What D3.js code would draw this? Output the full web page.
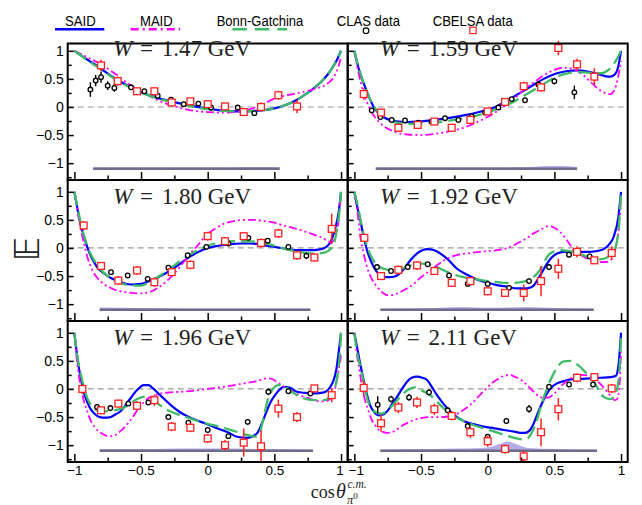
<!DOCTYPE html>
<html><head><meta charset="utf-8">
<script src="https://cdn.jsdelivr.net/npm/d3@7"></script>
<style>body{margin:0;background:#fff} svg{display:block}</style>
</head><body>
<svg id="c" width="642" height="505"></svg>
<script>
// ---------------- DATA ----------------
const energies = ["1.47","1.59","1.80","1.92","1.96","2.11"];
const legendLabels = ["SAID","MAID","Bonn-Gatchina","CLAS data","CBELSA data"];
const xTicks = [-1,-0.5,0,0.5,1];
const xMinor = [-0.75,-0.25,0.25,0.75];
const yTicks = [-1,-0.5,0,0.5,1];
const yMinor = [-1.25,-0.75,-0.25,0.25,0.75];

// W = 1.47
const said1 = [[-1,1],[-0.9,0.84],[-0.8,0.68],[-0.71,0.53],[-0.6,0.38],[-0.51,0.27],[-0.4,0.18],[-0.26,0.09],[-0.1,0.01],[0,-0.03],[0.1,-0.06],[0.24,-0.08],[0.35,-0.07],[0.49,-0.03],[0.6,0.05],[0.67,0.13],[0.75,0.25],[0.82,0.38],[0.88,0.52],[0.93,0.68],[0.97,0.84],[1,1]];
const maid1 = [[-1,1],[-0.9,0.88],[-0.8,0.76],[-0.7,0.6],[-0.6,0.42],[-0.5,0.28],[-0.4,0.15],[-0.3,0.05],[-0.2,-0.02],[-0.1,-0.07],[0,-0.09],[0.1,-0.1],[0.2,-0.09],[0.3,-0.05],[0.4,0.03],[0.5,0.15],[0.6,0.21],[0.7,0.26],[0.8,0.32],[0.9,0.42],[0.95,0.55],[0.98,0.72],[1,0.88]];
const bonn1 = [[-1,1],[-0.9,0.83],[-0.8,0.67],[-0.71,0.52],[-0.6,0.37],[-0.51,0.27],[-0.4,0.17],[-0.26,0.08],[-0.1,0.0],[0,-0.04],[0.1,-0.07],[0.24,-0.08],[0.35,-0.07],[0.49,-0.03],[0.6,0.05],[0.67,0.13],[0.75,0.25],[0.82,0.38],[0.88,0.52],[0.93,0.68],[0.97,0.84],[1,1]];
const clas1 = [[-0.88,0.31,0.13],[-0.84,0.47,0.1],[-0.8,0.53,0.1],[-0.75,0.38,0.08],[-0.7,0.34,0.07],[-0.575,0.35,0.04],[-0.475,0.28,0.04],[-0.375,0.2,0.04],[-0.275,0.13,0.04],[-0.18,0.05,0.04],[-0.07,0.06,0.04],[0.025,-0.01,0.04],[0.125,0.01,0.04],[0.225,-0.01,0.04],[0.35,-0.11,0.05]];
const cbelsa1 = [[-0.8,0.74,0.1],[-0.675,0.46,0.08],[-0.53,0.28,0.06],[-0.4,0.28,0.07],[-0.27,0.08,0.06],[-0.13,0.1,0.05],[0,0.05,0.06],[0.13,0.01,0.05],[0.27,-0.09,0.07],[0.4,0.0,0.08],[0.53,0.21,0.08],[0.67,0.01,0.12]];
const band1 = [[-0.86,-1.075],[-0.5,-1.075],[0,-1.075],[0.3,-1.07],[0.54,-1.075]];

// W = 1.59
const said2 = [[-1,1],[-0.97,0.7],[-0.93,0.42],[-0.89,0.18],[-0.855,0],[-0.8,-0.15],[-0.7,-0.25],[-0.6,-0.27],[-0.43,-0.24],[-0.3,-0.2],[-0.18,-0.15],[-0.05,-0.08],[0.05,-0.01],[0.15,0.12],[0.25,0.26],[0.32,0.36],[0.42,0.5],[0.52,0.6],[0.6,0.64],[0.67,0.65],[0.75,0.63],[0.82,0.59],[0.88,0.55],[0.92,0.54],[0.95,0.57],[0.975,0.68],[1,1]];
const maid2 = [[-1,1],[-0.97,0.62],[-0.93,0.25],[-0.88,-0.05],[-0.8,-0.3],[-0.7,-0.44],[-0.6,-0.49],[-0.5,-0.5],[-0.4,-0.48],[-0.3,-0.44],[-0.18,-0.37],[-0.08,-0.27],[0.02,-0.15],[0.1,-0.03],[0.17,0.09],[0.27,0.3],[0.37,0.48],[0.47,0.63],[0.57,0.7],[0.65,0.67],[0.72,0.56],[0.77,0.45],[0.83,0.32],[0.88,0.25],[0.92,0.23],[0.95,0.3],[0.975,0.5],[1,0.82]];
const bonn2 = [[-1,1],[-0.97,0.72],[-0.93,0.42],[-0.89,0.18],[-0.85,0],[-0.8,-0.15],[-0.7,-0.27],[-0.6,-0.3],[-0.45,-0.29],[-0.3,-0.25],[-0.15,-0.19],[0,-0.1],[0.1,0],[0.2,0.1],[0.3,0.24],[0.4,0.38],[0.5,0.52],[0.6,0.6],[0.7,0.62],[0.8,0.6],[0.85,0.6],[0.9,0.65],[0.95,0.78],[1,1]];
const clas2 = [[-0.87,-0.06,0.04],[-0.805,-0.18,0.04],[-0.72,-0.23,0.03],[-0.62,-0.24,0.03],[-0.52,-0.28,0.03],[-0.42,-0.26,0.03],[-0.32,-0.2,0.03],[-0.22,-0.23,0.03],[-0.12,-0.17,0.03],[-0.02,-0.1,0.03],[0.08,-0.01,0.03],[0.18,0.14,0.03],[0.28,0.12,0.04],[0.38,0.4,0.05],[0.5,0.46,0.06],[0.65,0.26,0.12]];
const cbelsa2 = [[-0.93,0.23,0.1],[-0.8,-0.1,0.07],[-0.67,-0.37,0.07],[-0.525,-0.32,0.06],[-0.4,-0.26,0.06],[-0.27,-0.37,0.06],[-0.13,-0.23,0.06],[0,-0.08,0.06],[0.13,0.09,0.07],[0.27,0.37,0.08],[0.4,0.35,0.08],[0.53,1.05,0.13],[0.67,0.76,0.1],[0.8,0.54,0.15]];
const band2 = [[-0.84,-1.075],[-0.3,-1.075],[0.3,-1.07],[0.45,-1.05],[0.55,-1.05],[0.67,-1.07]];

// W = 1.80
const said3 = [[-1,1],[-0.98,0.74],[-0.96,0.49],[-0.93,0.22],[-0.895,-0.04],[-0.86,-0.22],[-0.83,-0.34],[-0.78,-0.45],[-0.73,-0.53],[-0.65,-0.61],[-0.58,-0.65],[-0.5,-0.64],[-0.46,-0.61],[-0.38,-0.53],[-0.28,-0.4],[-0.2,-0.27],[-0.13,-0.15],[-0.06,-0.06],[0,0],[0.08,0.04],[0.17,0.07],[0.25,0.08],[0.32,0.08],[0.4,0.06],[0.47,0.03],[0.55,0],[0.62,-0.03],[0.7,-0.04],[0.77,-0.04],[0.83,-0.03],[0.89,0.02],[0.92,0.1],[0.955,0.34],[0.98,0.6],[1,1]];
const maid3 = [[-1,1],[-0.98,0.7],[-0.95,0.32],[-0.9,-0.18],[-0.86,-0.42],[-0.8,-0.6],[-0.71,-0.73],[-0.6,-0.79],[-0.51,-0.81],[-0.43,-0.78],[-0.36,-0.69],[-0.29,-0.55],[-0.23,-0.4],[-0.18,-0.25],[-0.13,-0.1],[-0.07,0.06],[-0.01,0.23],[0.06,0.35],[0.12,0.43],[0.2,0.48],[0.27,0.5],[0.35,0.5],[0.42,0.48],[0.5,0.45],[0.57,0.4],[0.65,0.35],[0.72,0.3],[0.78,0.25],[0.84,0.2],[0.89,0.14],[0.93,0.1],[0.96,0.2],[0.98,0.45],[1,1]];
const bonn3 = [[-1,1],[-0.97,0.65],[-0.95,0.42],[-0.9,0.02],[-0.82,-0.33],[-0.72,-0.55],[-0.6,-0.66],[-0.5,-0.67],[-0.42,-0.58],[-0.3,-0.4],[-0.2,-0.22],[-0.1,-0.07],[0,0.04],[0.1,0.1],[0.2,0.12],[0.3,0.12],[0.4,0.1],[0.5,0.04],[0.6,-0.03],[0.7,-0.08],[0.8,-0.1],[0.88,-0.08],[0.92,-0.02],[0.95,0.1],[0.97,0.35],[0.99,0.7],[1,1]];
const clas3 = [[-0.725,-0.43,0.03],[-0.6,-0.49,0.03],[-0.45,-0.55,0.03],[-0.295,-0.35,0.03],[-0.15,-0.13,0.03],[-0.01,0.02,0.03],[0.155,0.08,0.03],[0.305,0.18,0.03],[0.45,0.13,0.03],[0.605,0.02,0.03],[0.74,-0.14,0.06]];
const cbelsa3 = [[-0.93,0.4,0.08],[-0.8,-0.32,0.07],[-0.67,-0.58,0.08],[-0.53,-0.4,0.08],[-0.4,-0.61,0.08],[-0.27,-0.43,0.07],[-0.13,-0.3,0.08],[0,0.21,0.08],[0.13,0.12,0.07],[0.27,0.21,0.07],[0.4,0.09,0.08],[0.53,0.26,0.08],[0.67,-0.13,0.08],[0.8,-0.17,0.07],[0.93,0.34,0.27]];
const band3 = [[-0.81,-1.06],[-0.5,-1.07],[-0.2,-1.08],[0.77,-1.08]];

// W = 1.92
const said4 = [[-1,1],[-0.98,0.75],[-0.955,0.49],[-0.93,0.2],[-0.905,-0.04],[-0.855,-0.34],[-0.82,-0.46],[-0.78,-0.52],[-0.73,-0.52],[-0.68,-0.49],[-0.63,-0.38],[-0.58,-0.22],[-0.52,-0.08],[-0.455,-0.02],[-0.4,-0.04],[-0.355,-0.1],[-0.3,-0.2],[-0.23,-0.37],[-0.15,-0.48],[-0.08,-0.56],[0,-0.62],[0.07,-0.66],[0.15,-0.69],[0.22,-0.72],[0.295,-0.72],[0.34,-0.68],[0.37,-0.58],[0.41,-0.42],[0.445,-0.28],[0.48,-0.17],[0.52,-0.1],[0.57,-0.07],[0.62,-0.07],[0.7,-0.07],[0.77,-0.07],[0.83,-0.05],[0.87,-0.02],[0.91,0.06],[0.945,0.2],[0.98,0.55],[1,1]];
const maid4 = [[-1,1],[-0.975,0.6],[-0.955,0.2],[-0.93,-0.1],[-0.905,-0.34],[-0.87,-0.55],[-0.83,-0.69],[-0.79,-0.79],[-0.755,-0.84],[-0.72,-0.84],[-0.68,-0.81],[-0.62,-0.74],[-0.555,-0.64],[-0.5,-0.52],[-0.43,-0.4],[-0.37,-0.29],[-0.305,-0.19],[-0.22,-0.12],[-0.13,-0.09],[-0.03,-0.06],[0.07,-0.04],[0.15,0],[0.22,0.08],[0.29,0.17],[0.345,0.26],[0.4,0.33],[0.4575,0.39],[0.5,0.36],[0.545,0.28],[0.6,0.12],[0.645,-0.04],[0.7,-0.13],[0.745,-0.19],[0.8,-0.23],[0.845,-0.25],[0.89,-0.25],[0.92,-0.22],[0.95,-0.1],[0.97,0.14],[0.99,0.5],[1,0.9]];
const bonn4 = [[-1,1],[-0.97,0.7],[-0.95,0.45],[-0.9,0],[-0.85,-0.25],[-0.78,-0.37],[-0.7,-0.4],[-0.6,-0.33],[-0.55,-0.29],[-0.48,-0.28],[-0.4,-0.32],[-0.355,-0.37],[-0.28,-0.45],[-0.18,-0.52],[-0.1,-0.55],[-0.03,-0.58],[0.05,-0.6],[0.12,-0.62],[0.2,-0.62],[0.27,-0.6],[0.32,-0.55],[0.37,-0.46],[0.41,-0.32],[0.445,-0.16],[0.49,-0.07],[0.545,-0.04],[0.6,-0.05],[0.67,-0.09],[0.73,-0.14],[0.795,-0.19],[0.85,-0.2],[0.895,-0.17],[0.93,-0.1],[0.96,0.02],[0.98,0.3],[1,1]];
const clas4 = [[-0.83,-0.34,0.03],[-0.725,-0.41,0.03],[-0.6,-0.34,0.03],[-0.45,-0.29,0.03],[-0.29,-0.49,0.03],[-0.15,-0.64,0.03],[0,-0.64,0.03],[0.16,-0.71,0.03],[0.31,-0.59,0.05],[0.46,-0.34,0.05],[0.61,-0.12,0.04],[0.765,-0.15,0.03]];
const cbelsa4 = [[-0.925,0.18,0.07],[-0.8,-0.5,0.07],[-0.67,-0.39,0.08],[-0.53,-0.31,0.08],[-0.4,-0.41,0.07],[-0.27,-0.62,0.07],[-0.13,-0.59,0.07],[0,-0.77,0.07],[0.13,-0.8,0.07],[0.27,-0.8,0.15],[0.4,-0.59,0.27],[0.53,-0.37,0.18],[0.67,-0.07,0.1],[0.8,-0.22,0.06],[0.93,-0.09,0.12]];
const band4 = [[-0.805,-1.08],[-0.4,-1.07],[-0.2,-1.05],[0,-1.065],[0.15,-1.06],[0.3,-1.05],[0.5,-1.07],[0.795,-1.08]];

// W = 1.96
const said5 = [[-1,1],[-0.985,0.7],[-0.97,0.43],[-0.95,0.17],[-0.93,-0.05],[-0.9,-0.25],[-0.88,-0.35],[-0.845,-0.45],[-0.81,-0.5],[-0.77,-0.51],[-0.73,-0.5],[-0.69,-0.45],[-0.66,-0.41],[-0.62,-0.3],[-0.58,-0.17],[-0.53,-0.02],[-0.48,0.07],[-0.445,0.07],[-0.41,0.01],[-0.37,-0.08],[-0.33,-0.17],[-0.27,-0.3],[-0.21,-0.41],[-0.15,-0.49],[-0.08,-0.56],[0,-0.63],[0.07,-0.7],[0.15,-0.77],[0.22,-0.85],[0.29,-0.87],[0.33,-0.85],[0.37,-0.79],[0.405,-0.62],[0.44,-0.41],[0.475,-0.22],[0.505,-0.11],[0.54,-0.01],[0.57,0.04],[0.62,0.02],[0.67,-0.05],[0.73,-0.07],[0.79,-0.08],[0.85,-0.07],[0.89,-0.04],[0.92,0.04],[0.94,0.13],[0.965,0.35],[0.98,0.61],[1,1]];
const maid5 = [[-1,1],[-0.985,0.6],[-0.97,0.3],[-0.95,0],[-0.93,-0.2],[-0.9,-0.42],[-0.88,-0.55],[-0.85,-0.67],[-0.82,-0.75],[-0.78,-0.81],[-0.75,-0.84],[-0.71,-0.84],[-0.68,-0.8],[-0.64,-0.72],[-0.6,-0.62],[-0.56,-0.49],[-0.52,-0.35],[-0.48,-0.24],[-0.45,-0.17],[-0.4,-0.12],[-0.35,-0.08],[-0.28,-0.06],[-0.2,-0.05],[-0.1,-0.03],[0,0],[0.1,0.03],[0.2,0.07],[0.3,0.11],[0.35,0.13],[0.4,0.16],[0.45,0.19],[0.49,0.17],[0.52,0.12],[0.56,0.06],[0.6,0],[0.65,-0.06],[0.7,-0.12],[0.75,-0.16],[0.8,-0.2],[0.84,-0.22],[0.88,-0.22],[0.91,-0.19],[0.94,-0.1],[0.96,0.05],[0.98,0.3],[1,0.6]];
const bonn5 = [[-1,1],[-0.98,0.62],[-0.96,0.35],[-0.94,0.14],[-0.92,-0.05],[-0.87,-0.3],[-0.8,-0.4],[-0.7,-0.38],[-0.6,-0.3],[-0.53,-0.18],[-0.48,-0.14],[-0.43,-0.16],[-0.38,-0.25],[-0.3,-0.38],[-0.2,-0.47],[-0.1,-0.55],[0,-0.62],[0.1,-0.68],[0.2,-0.75],[0.3,-0.82],[0.36,-0.85],[0.39,-0.78],[0.42,-0.5],[0.45,-0.2],[0.48,-0.03],[0.53,0.07],[0.57,0.05],[0.63,-0.05],[0.7,-0.15],[0.8,-0.2],[0.87,-0.2],[0.93,-0.1],[0.97,0.2],[0.99,0.6],[1,1]];
const clas5 = [[-0.83,-0.32,0.04],[-0.73,-0.34,0.03],[-0.595,-0.26,0.03],[-0.445,-0.24,0.03],[-0.295,-0.5,0.03],[-0.145,-0.6,0.03],[0,-0.73,0.03],[0.155,-0.84,0.04],[0.3,-0.585,0.05],[0.455,-0.05,0.06],[0.605,-0.04,0.04],[0.77,-0.08,0.04]];
const cbelsa5 = [[-0.94,0,0.09],[-0.8,-0.38,0.07],[-0.67,-0.26,0.07],[-0.53,-0.3,0.08],[-0.4,-0.2,0.1],[-0.27,-0.67,0.08],[-0.13,-0.69,0.08],[0,-0.88,0.08],[0.13,-1.0,0.09],[0.27,-0.955,0.25],[0.4,-1.02,0.28],[0.53,-0.35,0.16],[0.67,-0.5,0.09],[0.8,0.01,0.06],[0.93,-0.11,0.13]];
const band5 = [[-0.81,-1.07],[-0.4,-1.07],[-0.2,-1.06],[0,-1.06],[0.2,-1.06],[0.4,-1.07],[0.79,-1.08]];

// W = 2.11
const said6 = [[-1,1],[-0.98,0.75],[-0.955,0.43],[-0.93,0.15],[-0.905,-0.11],[-0.88,-0.3],[-0.855,-0.4],[-0.82,-0.47],[-0.79,-0.46],[-0.755,-0.4],[-0.72,-0.28],[-0.68,-0.14],[-0.64,0.01],[-0.605,0.13],[-0.57,0.2],[-0.53,0.22],[-0.49,0.2],[-0.455,0.16],[-0.42,0.04],[-0.38,-0.11],[-0.33,-0.27],[-0.28,-0.4],[-0.23,-0.5],[-0.18,-0.57],[-0.1,-0.63],[-0.03,-0.67],[0.05,-0.7],[0.12,-0.73],[0.2,-0.76],[0.245,-0.78],[0.28,-0.78],[0.31,-0.75],[0.34,-0.64],[0.37,-0.46],[0.41,-0.24],[0.445,-0.08],[0.48,0.03],[0.52,0.1],[0.57,0.14],[0.62,0.17],[0.7,0.18],[0.77,0.19],[0.85,0.2],[0.92,0.21],[0.96,0.23],[0.98,0.4],[1,1]];
const maid6 = [[-1,1],[-0.98,0.6],[-0.96,0.3],[-0.94,0],[-0.92,-0.2],[-0.89,-0.42],[-0.87,-0.55],[-0.84,-0.66],[-0.82,-0.72],[-0.79,-0.76],[-0.76,-0.78],[-0.72,-0.77],[-0.68,-0.72],[-0.64,-0.65],[-0.6,-0.6],[-0.55,-0.55],[-0.5,-0.52],[-0.45,-0.5],[-0.4,-0.5],[-0.35,-0.5],[-0.3,-0.49],[-0.26,-0.47],[-0.22,-0.43],[-0.18,-0.37],[-0.13,-0.28],[-0.08,-0.16],[-0.03,-0.04],[0.02,0.08],[0.07,0.17],[0.12,0.23],[0.16,0.25],[0.2,0.22],[0.25,0.16],[0.3,0.06],[0.34,-0.04],[0.38,-0.12],[0.42,-0.16],[0.46,-0.15],[0.5,-0.08],[0.55,0.05],[0.6,0.15],[0.65,0.22],[0.7,0.25],[0.75,0.24],[0.8,0.19],[0.84,0.1],[0.88,0],[0.92,-0.12],[0.95,-0.2],[0.97,-0.18],[0.99,0.1],[1,0.7]];
const bonn6 = [[-1,1],[-0.98,0.65],[-0.95,0.35],[-0.92,0],[-0.9,-0.2],[-0.87,-0.35],[-0.85,-0.4],[-0.8,-0.44],[-0.75,-0.38],[-0.68,-0.2],[-0.6,-0.02],[-0.55,0.03],[-0.5,-0.02],[-0.42,-0.13],[-0.35,-0.3],[-0.28,-0.45],[-0.2,-0.55],[-0.1,-0.65],[0,-0.72],[0.1,-0.8],[0.2,-0.87],[0.27,-0.9],[0.3,-0.88],[0.33,-0.78],[0.37,-0.55],[0.4,-0.3],[0.445,0.01],[0.5,0.3],[0.57,0.49],[0.62,0.5],[0.68,0.42],[0.74,0.28],[0.795,0.13],[0.87,-0.14],[0.92,-0.18],[0.95,-0.12],[0.97,0],[0.99,0.4],[1,1]];
const clas6 = [[-0.825,-0.28,0.15],[-0.725,-0.18,0.06],[-0.59,-0.15,0.06],[-0.44,-0.06,0.05],[-0.3,-0.38,0.05],[-0.15,-0.66,0.04],[0,-0.85,0.04],[0.14,-0.57,0.04],[0.31,-0.355,0.07],[0.46,0.04,0.05],[0.61,0.08,0.04],[0.79,0.08,0.04]];
const cbelsa6 = [[-0.93,0.02,0.13],[-0.8,-0.61,0.15],[-0.67,-0.33,0.1],[-0.53,-0.24,0.1],[-0.4,-0.36,0.1],[-0.27,-0.48,0.08],[-0.13,-0.77,0.1],[0,-0.93,0.1],[0.13,-1.07,0.08],[0.27,-1.2,0.1],[0.4,-0.77,0.25],[0.53,-0.36,0.2],[0.67,0.2,0.08],[0.8,0.21,0.06],[0.93,0.01,0.08]];
const band6 = [[-0.805,-1.08],[-0.4,-1.07],[-0.2,-1.06],[0,-1.04],[0.1,-0.97],[0.15,-0.935],[0.2,-0.97],[0.3,-1.05],[0.5,-1.07],[0.82,-1.08]];

// ---------------- LAYOUT ----------------
const panels = [
  {w:energies[0], said:said1, maid:maid1, bonn:bonn1, clas:clas1, cbelsa:cbelsa1, band:band1},
  {w:energies[1], said:said2, maid:maid2, bonn:bonn2, clas:clas2, cbelsa:cbelsa2, band:band2},
  {w:energies[2], said:said3, maid:maid3, bonn:bonn3, clas:clas3, cbelsa:cbelsa3, band:band3},
  {w:energies[3], said:said4, maid:maid4, bonn:bonn4, clas:clas4, cbelsa:cbelsa4, band:band4},
  {w:energies[4], said:said5, maid:maid5, bonn:bonn5, clas:clas5, cbelsa:cbelsa5, band:band5},
  {w:energies[5], said:said6, maid:maid6, bonn:bonn6, clas:clas6, cbelsa:cbelsa6, band:band6}
];
const cols = [{x0:67.7, x1:347.7, tx:113.3}, {x0:347.7, x1:627.7, tx:380}];
const rows = [{y0:43.5, y1:180, ymax:1.13, tb:56}, {y0:180, y1:321, ymax:1.21, tb:203.5}, {y0:321, y1:462, ymax:1.21, tb:345}];
const XMIN=-1.05, XMAX=1.05, YMIN=-1.30;
const BLUE="#0000ff", MAG="#ff00ff", GREEN="#3dbb66", RED="#ff2020";
const SANS="'Liberation Sans', Arial, sans-serif", SERIF="'Liberation Serif','Times New Roman',serif";
const fmt = d => d3.format("")(d).replace("-","\u2212");

const svg = d3.select("#c");

panels.forEach((p,i)=>{
  const r = rows[Math.floor(i/2)], c = cols[i%2];
  const x = d3.scaleLinear().domain([XMIN,XMAX]).range([c.x0,c.x1]);
  const y = d3.scaleLinear().domain([YMIN,r.ymax]).range([r.y1,r.y0]);
  const g = svg.append("g");

  g.append("line").attr("x1",x(XMIN)).attr("x2",x(XMAX)).attr("y1",y(0)).attr("y2",y(0))
    .attr("stroke","#999").attr("stroke-width",1.2).attr("stroke-dasharray","6,4");

  const area = d3.area().x(d=>x(d[0])).y0(y(-1.1)).y1(d=>y(d[1])).curve(d3.curveMonotoneX);
  g.append("path").datum(p.band).attr("d",area).attr("fill","#a89ce0").attr("opacity",0.85);
  g.append("line").attr("x1",x(p.band[0][0])).attr("x2",x(p.band[p.band.length-1][0]))
    .attr("y1",y(-1.1)).attr("y2",y(-1.1)).attr("stroke","#6f6b8a").attr("stroke-width",2.4);

  const line = d3.line().x(d=>x(d[0])).y(d=>y(d[1])).curve(d3.curveMonotoneX);
  g.append("path").datum(p.said).attr("d",line).attr("fill","none").attr("stroke",BLUE).attr("stroke-width",2.2);
  g.append("path").datum(p.maid).attr("d",line).attr("fill","none").attr("stroke",MAG).attr("stroke-width",1.8)
    .attr("stroke-dasharray","8,3,2,3,2,3");
  g.append("path").datum(p.bonn).attr("d",line).attr("fill","none").attr("stroke",GREEN).attr("stroke-width",2.3)
    .attr("stroke-dasharray","14,6");

  g.selectAll(".ce").data(p.clas).enter().append("line")
    .attr("x1",d=>x(d[0])).attr("x2",d=>x(d[0])).attr("y1",d=>y(d[1]-d[2])).attr("y2",d=>y(d[1]+d[2]))
    .attr("stroke","#000").attr("stroke-width",1.4);
  g.selectAll(".cp").data(p.clas).enter().append("circle")
    .attr("cx",d=>x(d[0])).attr("cy",d=>y(d[1])).attr("r",2.3)
    .attr("fill","#fff").attr("stroke","#000").attr("stroke-width",1.3);

  g.selectAll(".be").data(p.cbelsa).enter().append("line")
    .attr("x1",d=>x(d[0])).attr("x2",d=>x(d[0])).attr("y1",d=>Math.min(y(d[1]-d[2]), r.y1)).attr("y2",d=>y(d[1]+d[2]))
    .attr("stroke",RED).attr("stroke-width",1.5);
  g.selectAll(".bp").data(p.cbelsa).enter().append("rect")
    .attr("x",d=>x(d[0])-3.4).attr("y",d=>y(d[1])-3.4).attr("width",6.8).attr("height",6.8)
    .attr("fill","#fff").attr("stroke",RED).attr("stroke-width",1.3);

  const isLeft = (i%2===0), isBottom = (Math.floor(i/2)===2);
  const ya = g.append("g").attr("transform",`translate(${c.x0},0)`)
    .call(d3.axisLeft(y).tickValues(yTicks).tickSize(-6).tickPadding(4).tickFormat(isLeft ? fmt : ""));
  ya.select(".domain").remove();
  ya.selectAll("line").attr("stroke","#000").attr("stroke-width",1.5);
  ya.selectAll("text").attr("font-family",SANS).attr("font-size",14).attr("fill","#000");
  const ym = g.append("g").attr("transform",`translate(${c.x0},0)`)
    .call(d3.axisLeft(y).tickValues(yMinor.filter(v=>v<r.ymax)).tickSize(-4).tickFormat(""));
  ym.select(".domain").remove();
  ym.selectAll("line").attr("stroke","#000").attr("stroke-width",1.5);

  const xa = g.append("g").attr("transform",`translate(0,${r.y1})`)
    .call(d3.axisBottom(x).tickValues(xTicks).tickSize(-8).tickPadding(3.5).tickFormat(isBottom ? fmt : ""));
  xa.select(".domain").remove();
  xa.selectAll("line").attr("stroke","#000").attr("stroke-width",1.5);
  xa.selectAll("text").attr("font-family",SANS).attr("font-size",13.5).attr("fill","#000")
    .attr("dx", d => (isLeft && d===1) ? -1.5 : (!isLeft && d===-1) ? 1.5 : 0);
  const xm = g.append("g").attr("transform",`translate(0,${r.y1})`)
    .call(d3.axisBottom(x).tickValues(xMinor).tickSize(-4.5).tickFormat(""));
  xm.select(".domain").remove();
  xm.selectAll("line").attr("stroke","#000").attr("stroke-width",1.5);

  g.append("rect").attr("x",c.x0).attr("y",r.y0).attr("width",c.x1-c.x0).attr("height",r.y1-r.y0)
    .attr("fill","none").attr("stroke","#000").attr("stroke-width",2);

  const t = g.append("text").attr("font-family",SERIF).attr("font-size",23).attr("fill","#222")
    .attr("x",c.tx).attr("y",r.tb);
  t.append("tspan").attr("font-style","italic").text("W");
  t.append("tspan").attr("x",c.tx+26.7).text("=");
  t.append("tspan").attr("x",c.tx+48.4).text(p.w+" GeV");
});

// ---------------- LEGEND ----------------
const lg = svg.append("g").attr("font-family",SANS).attr("font-size",15.5).attr("fill","#000");
const lx = [65,140,216.7,336.7,432.7], lw = [30.7,32.7,86.6,63.3,80];
legendLabels.forEach((s,k)=>{
  lg.append("text").attr("x",lx[k]).attr("y",25.5).attr("textLength",lw[k])
    .attr("lengthAdjust","spacingAndGlyphs").text(s);
});
svg.append("line").attr("x1",55).attr("x2",104.3).attr("y1",29.3).attr("y2",29.3).attr("stroke",BLUE).attr("stroke-width",2.6);
svg.append("line").attr("x1",130.7).attr("x2",180).attr("y1",29.3).attr("y2",29.3).attr("stroke",MAG).attr("stroke-width",2.4).attr("stroke-dasharray","8,4,2,4");
svg.append("line").attr("x1",232.3).attr("x2",287).attr("y1",29.3).attr("y2",29.3).attr("stroke",GREEN).attr("stroke-width",2.6).attr("stroke-dasharray","14.5,8");
svg.append("circle").attr("cx",366).attr("cy",30.7).attr("r",2.8).attr("fill","#fff").attr("stroke","#000").attr("stroke-width",1.2);
svg.append("rect").attr("x",469.8).attr("y",27.2).attr("width",6.4).attr("height",6.4).attr("fill","#fff").attr("stroke",RED).attr("stroke-width",1.2);

// ---------------- AXIS LABELS ----------------
svg.append("text").attr("transform","translate(27.5,249) rotate(-90)")
  .attr("text-anchor","middle").attr("dominant-baseline","central")
  .attr("font-family","'DejaVu Sans', 'DejaVu Serif', sans-serif").attr("font-size",33).attr("fill","#222")
  .text("\u{1D53C}");

const xl = svg.append("text").attr("font-family",SERIF).attr("fill","#222").attr("font-size",20)
  .attr("x",310.7).attr("y",497.5);
xl.append("tspan").attr("font-size",18).text("cos");
xl.append("tspan").attr("x",336).attr("font-style","italic").text("\u03B8");
xl.append("tspan").attr("x",347.5).attr("dy",-9.5).attr("font-size",11.5).attr("font-style","italic").text("c.m.");
xl.append("tspan").attr("x",347).attr("dy",15.5).attr("font-size",12.5).attr("font-style","italic").text("\u03C0");
xl.append("tspan").attr("dy",-4.5).attr("font-size",9).text("0");
</script>
</body></html>
